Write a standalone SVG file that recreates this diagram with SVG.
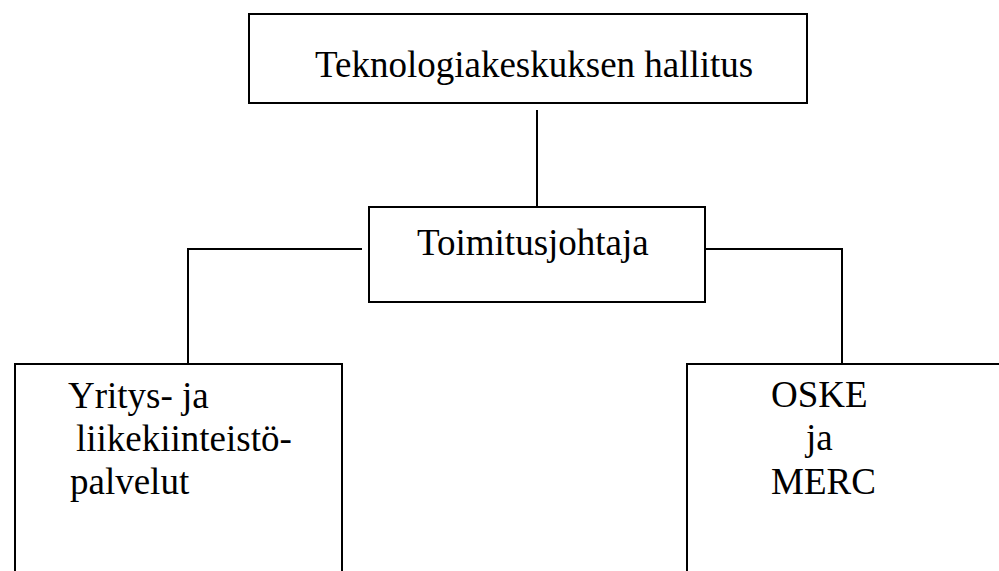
<svg xmlns="http://www.w3.org/2000/svg" width="999" height="571" viewBox="0 0 999 571">
<style>
.box{fill:#fff;stroke:#000;stroke-width:2}
.c{fill:none;stroke:#000;stroke-width:2}
.t{font-family:"Liberation Serif","Times New Roman",serif;font-size:37px;fill:#000}
</style>
<rect width="999" height="571" fill="#fff"/>
<g id="connectors">
<line class="c" x1="537" y1="110" x2="537" y2="207"/>
<polyline class="c" points="362,249 188,249 188,364"/>
<polyline class="c" points="705,249 842,249 842,364"/>
</g>
<g id="hallitus">
<rect class="box" x="249" y="14" width="558" height="89"/>
<text class="t" x="315" y="77">Teknologiakeskuksen hallitus</text>
</g>
<g id="toimitusjohtaja">
<rect class="box" x="369" y="207" width="336" height="95"/>
<text class="t" x="417" y="255">Toimitusjohtaja</text>
</g>
<g id="yrityspalvelut">
<rect class="box" x="15" y="364" width="327" height="220"/>
<text class="t" x="68" y="408">Yritys- ja</text>
<text class="t" x="76" y="451">liikekiinteistö-</text>
<text class="t" x="70" y="494">palvelut</text>
</g>
<g id="oske">
<rect class="box" x="687" y="364" width="330" height="220"/>
<text class="t" x="771" y="407">OSKE</text>
<text class="t" x="806" y="450">ja</text>
<text class="t" x="771" y="494">MERC</text>
</g>
</svg>
